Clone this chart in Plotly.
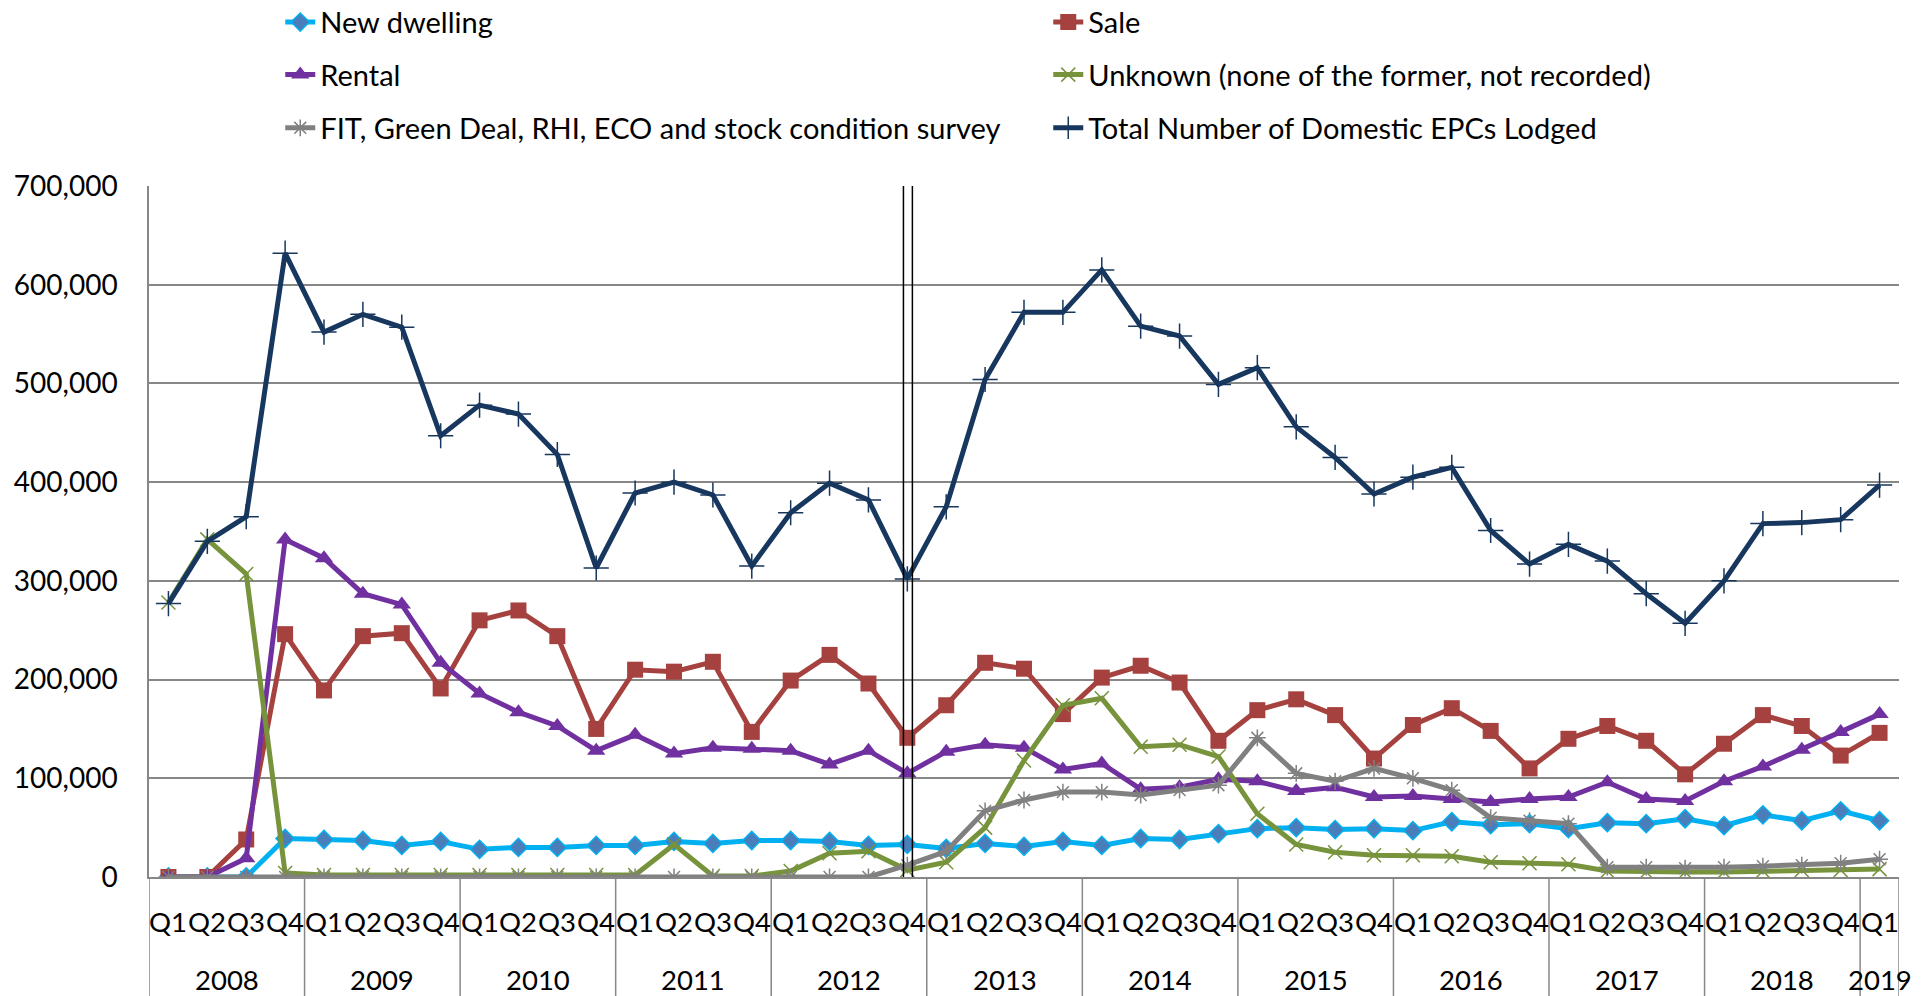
import plotly.graph_objects as go

years = ["2008", "2009", "2010", "2011", "2012", "2013", "2014", "2015", "2016", "2017", "2018", "2019"]
quarter_labels = ["Q1", "Q2", "Q3", "Q4"] * 11 + ["Q1"]

new_dwelling = [0, 0, 0, 39000, 38000, 37000, 32000, 36000, 28000, 30000, 30000, 32000,
                32000, 36000, 34000, 37000, 37000, 36000, 32000, 33000, 29000, 34000, 31000, 36000,
                32000, 39000, 38000, 44000, 49000, 50000, 48000, 49000, 47000, 56000, 53000, 54000,
                49000, 55000, 54000, 59000, 52000, 63000, 57000, 67000, 57000]
sale = [0, 0, 38000, 246000, 189000, 244000, 247000, 191000, 260000, 270000, 244000, 150000,
        210000, 208000, 218000, 147000, 199000, 225000, 196000, 141000, 174000, 217000, 211000, 165000,
        202000, 214000, 197000, 138000, 169000, 180000, 164000, 120000, 154000, 171000, 148000, 110000,
        140000, 153000, 138000, 104000, 135000, 164000, 153000, 123000, 146000]
rental = [0, 0, 19000, 342000, 323000, 287000, 276000, 217000, 186000, 167000, 153000, 128000,
          144000, 125000, 131000, 130000, 128000, 114000, 128000, 105000, 127000, 134000, 131000, 109000,
          115000, 89000, 91000, 99000, 97000, 87000, 91000, 81000, 82000, 79000, 76000, 79000,
          81000, 96000, 79000, 77000, 97000, 112000, 129000, 147000, 165000]
unknown = [278000, 342000, 307000, 4000, 2000, 2000, 2000, 2000, 2000, 2000, 2000, 2000,
           2000, 33000, 1000, 1000, 6000, 24000, 26000, 7000, 15000, 50000, 118000, 174000,
           181000, 132000, 134000, 122000, 64000, 33000, 25000, 22000, 22000, 21000, 15000, 14000,
           13000, 6000, 5000, 5000, 5000, 6000, 7000, 7000, 8000]
fit_survey = [0, 0, 0, 0, 0, 0, 0, 0, 0, 0, 0, 0,
              0, 0, 0, 0, 0, 0, 0, 12000, 26000, 67000, 78000, 86000,
              86000, 83000, 88000, 93000, 141000, 105000, 97000, 110000, 100000, 88000, 60000, 57000,
              54000, 10000, 10000, 9000, 10000, 11000, 12000, 14000, 18000]
total = [277000, 340000, 365000, 632000, 552000, 570000, 557000, 447000, 478000, 469000, 428000, 313000,
         389000, 400000, 387000, 315000, 369000, 399000, 382000, 302000, 375000, 504000, 572000, 572000,
         615000, 558000, 548000, 499000, 516000, 456000, 425000, 388000, 405000, 415000, 351000, 317000,
         337000, 320000, 287000, 257000, 300000, 358000, 359000, 362000, 397000]

x = list(range(len(total)))
FONT = "Lato"
GRID = "#878787"

fig = go.Figure()

series = [
    ("New dwelling", new_dwelling, "#00B0F0",
     dict(symbol="diamond", size=14, color="#4A7EBB", line=dict(color="#00B0F0", width=1.5)), "legend"),
    ("Sale", sale, "#A5423F", dict(symbol="square", size=16, color="#A5423F"), "legend"),
    ("Rental", rental, "#7030A0", dict(symbol="triangle-up", size=16, color="#7030A0"), "legend2"),
    ("Unknown (none of the former, not recorded)", unknown, "#77933C",
     dict(symbol="x-thin", size=14, color="#77933C", line=dict(color="#77933C", width=1.5)), "legend2"),
    ("FIT, Green Deal, RHI, ECO and stock condition survey", fit_survey, "#808080",
     dict(symbol="asterisk", size=14, color="#808080", line=dict(color="#808080", width=1.5)), "legend3"),
    ("Total Number of Domestic EPCs Lodged", total, "#17375E",
     dict(symbol="cross-thin", size=18, color="#17375E", line=dict(color="#17375E", width=1.5)), "legend3"),
]

for name, vals, col, mk, lg in series:
    fig.add_trace(go.Scatter(x=x, y=vals, name=name, mode="lines+markers",
                             line=dict(color=col, width=5), marker=mk, legend=lg))

annotations = []
for i, q in enumerate(quarter_labels):
    annotations.append(dict(x=i, y=-0.064, xref="x", yref="paper", text=q, showarrow=False,
                            font=dict(family=FONT, size=27.5, color="#000000"),
                            xanchor="center", yanchor="middle"))
for k, yr in enumerate(years):
    cx = 44 if yr == "2019" else 4 * k + 1.5
    annotations.append(dict(x=cx, y=-0.149, xref="x", yref="paper", text=yr, showarrow=False,
                            font=dict(family=FONT, size=27.5, color="#000000"),
                            xanchor="center", yanchor="middle"))

shapes = []
bounds = [-0.5 + 4 * k for k in range(12)] + [44.5]
for b in bounds:
    shapes.append(dict(type="line", xref="x", yref="paper", x0=b, x1=b, y0=0, y1=-0.2,
                       line=dict(color=GRID, width=1.5)))
for xv in [18.9, 19.13]:
    shapes.append(dict(type="line", xref="x", yref="y", x0=xv, x1=xv, y0=0, y1=700000,
                       line=dict(color="#000000", width=1.5), layer="above"))

legend_common = dict(orientation="h", entrywidth=723, entrywidthmode="pixels",
                     font=dict(family=FONT, size=29, color="#000000"),
                     bgcolor="rgba(0,0,0,0)", xanchor="left", yanchor="middle", x=0.075)

fig.update_layout(
    width=1921, height=996,
    margin=dict(l=149, r=22, t=186, b=119, autoexpand=False),
    paper_bgcolor="white", plot_bgcolor="white",
    font=dict(family=FONT, size=28, color="#000000"),
    showlegend=True,
    legend=dict(**legend_common, y=1.237),
    legend2=dict(**legend_common, y=1.161),
    legend3=dict(**legend_common, y=1.084),
    xaxis=dict(range=[-0.5, 44.5], showticklabels=False, showgrid=False, zeroline=False,
               showline=True, linecolor=GRID, linewidth=1.5, ticks=""),
    yaxis=dict(range=[0, 700000], dtick=100000, tickformat=",", showgrid=True, gridcolor=GRID,
               gridwidth=1.5, zeroline=False, showline=True, linecolor=GRID, linewidth=1.5,
               ticks="", ticklabelstandoff=24, tickfont=dict(family=FONT, size=28, color="#000000")),
    annotations=annotations,
    shapes=shapes,
)

fig.write_html("out.html")
